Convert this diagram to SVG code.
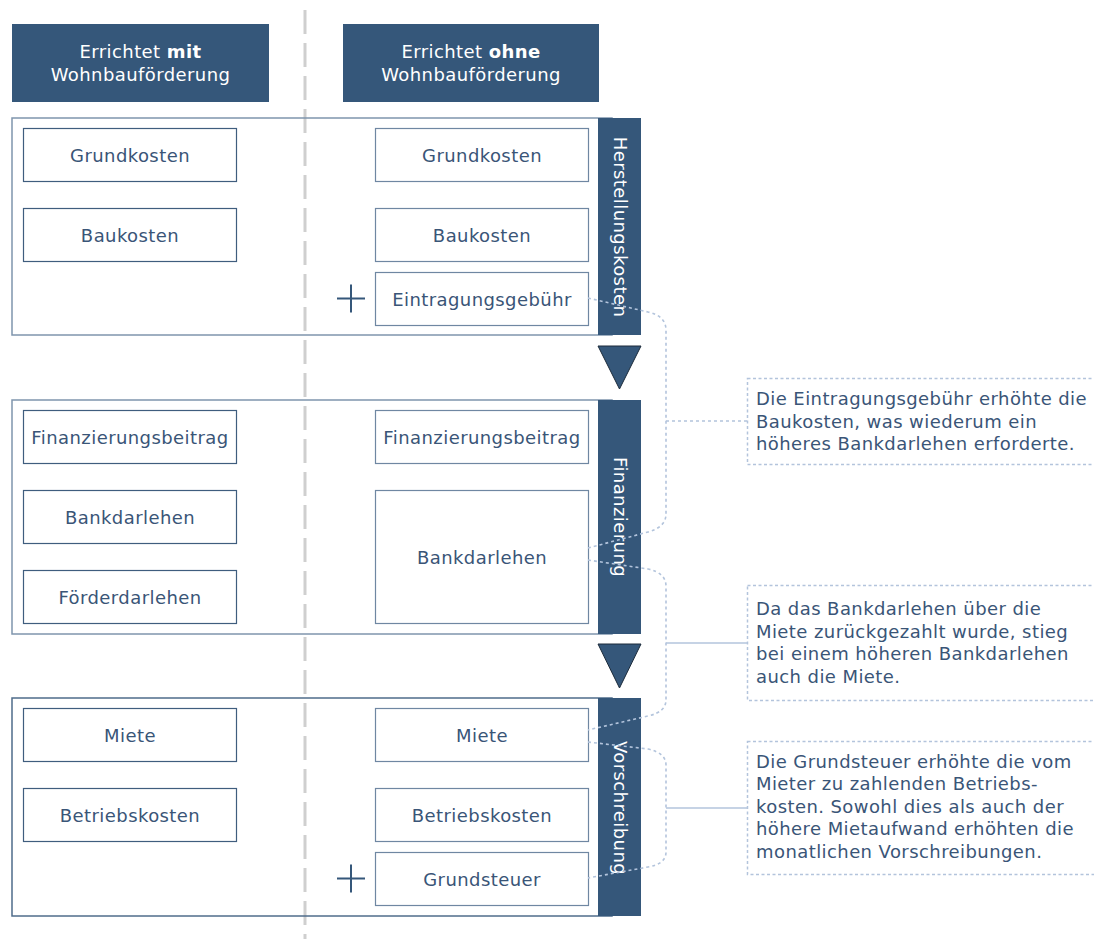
<svg xmlns="http://www.w3.org/2000/svg" width="1094" height="939" viewBox="0 0 1094 939">
<style>
text{font-family:"DejaVu Sans","Verdana",sans-serif;font-size:18px;fill:#3a5577;letter-spacing:0.42px}
.hd{fill:#35577a}
.hdt{fill:#ffffff;text-anchor:middle}
.frame{fill:none;stroke:#7f95ad;stroke-width:1.5}
.bar{fill:#35577a}
.bart{fill:#ffffff;text-anchor:middle;dominant-baseline:central}
.bl{fill:#ffffff;stroke:#3f5d7e;stroke-width:1.2}
.br{fill:#ffffff;stroke:#6f87a2;stroke-width:1.2}
.lbl{text-anchor:middle}
.tri{fill:#35577a;stroke:#1c2b3a;stroke-width:1}
.plus{stroke:#35577a;stroke-width:2;fill:none}
.conn{fill:none;stroke:#b3c4dc;stroke-width:1.6;stroke-dasharray:3 3}
.hline{fill:none;stroke:#b3c4dc;stroke-width:1.6}
.call{fill:none;stroke:#b3c4dc;stroke-width:1.5;stroke-dasharray:3 2.5}
</style>
<rect width="1094" height="939" fill="#ffffff"/>
<line x1="305" y1="10" x2="305" y2="939" stroke="#cfcfcf" stroke-width="3" stroke-dasharray="24 9"/>

<g id="header-mit"><rect class="hd" x="12" y="24" width="257" height="78"/><text class="hdt" x="140.5" y="58">Errichtet <tspan font-weight="bold">mit</tspan></text><text class="hdt" x="140.5" y="81">Wohnbauförderung</text></g>
<g id="header-ohne"><rect class="hd" x="343" y="24" width="256" height="78"/><text class="hdt" x="471" y="58">Errichtet <tspan font-weight="bold">ohne</tspan></text><text class="hdt" x="471" y="81">Wohnbauförderung</text></g>

<g id="section-herstellungskosten">
<rect class="frame" x="12" y="118" width="600" height="217"/>
<rect class="bar" x="598" y="118" width="43" height="217"/>
<text class="bart" transform="translate(620,227) rotate(90)">Herstellungskosten</text>
</g>
<g id="section-finanzierung">
<rect class="frame" x="12" y="400" width="600" height="234"/>
<rect class="bar" x="598" y="400" width="43" height="234"/>
<text class="bart" transform="translate(620,517) rotate(90)">Finanzierung</text>
</g>
<g id="section-vorschreibung">
<rect class="frame" x="12" y="698" width="600" height="218" style="stroke:#4f6c8b"/>
<rect class="bar" x="598" y="698" width="43" height="218"/>
<text class="bart" transform="translate(620,808) rotate(90)">Vorschreibung</text>
</g>

<g id="n-grundkosten-mit"><rect class="bl" x="23.5" y="128.5" width="213" height="53"/><text class="lbl" x="130" y="161.5">Grundkosten</text></g>
<g id="n-baukosten-mit"><rect class="bl" x="23.5" y="208.5" width="213" height="53"/><text class="lbl" x="130" y="241.5">Baukosten</text></g>
<g id="n-grundkosten-ohne"><rect class="br" x="375.5" y="128.5" width="213" height="53"/><text class="lbl" x="482" y="161.5">Grundkosten</text></g>
<g id="n-baukosten-ohne"><rect class="br" x="375.5" y="208.5" width="213" height="53"/><text class="lbl" x="482" y="241.5">Baukosten</text></g>
<g id="n-eintragungsgebuehr"><rect class="br" x="375.5" y="272.5" width="213" height="53"/><text class="lbl" x="482" y="305.5">Eintragungsgebühr</text><path class="plus" d="M337,298.5 H365 M351,284.5 V312.5"/></g>

<g id="n-finanzierungsbeitrag-mit"><rect class="bl" x="23.5" y="410.5" width="213" height="53"/><text class="lbl" x="130" y="443.5">Finanzierungsbeitrag</text></g>
<g id="n-bankdarlehen-mit"><rect class="bl" x="23.5" y="490.5" width="213" height="53"/><text class="lbl" x="130" y="523.5">Bankdarlehen</text></g>
<g id="n-foerderdarlehen-mit"><rect class="bl" x="23.5" y="570.5" width="213" height="53"/><text class="lbl" x="130" y="603.5">Förderdarlehen</text></g>
<g id="n-finanzierungsbeitrag-ohne"><rect class="br" x="375.5" y="410.5" width="213" height="53"/><text class="lbl" x="482" y="443.5">Finanzierungsbeitrag</text></g>
<g id="n-bankdarlehen-ohne"><rect class="br" x="375.5" y="490.5" width="213" height="133"/><text class="lbl" x="482" y="563.5">Bankdarlehen</text></g>

<g id="n-miete-mit"><rect class="bl" x="23.5" y="708.5" width="213" height="53"/><text class="lbl" x="130" y="741.5">Miete</text></g>
<g id="n-betriebskosten-mit"><rect class="bl" x="23.5" y="788.5" width="213" height="53"/><text class="lbl" x="130" y="821.5">Betriebskosten</text></g>
<g id="n-miete-ohne"><rect class="br" x="375.5" y="708.5" width="213" height="53"/><text class="lbl" x="482" y="741.5">Miete</text></g>
<g id="n-betriebskosten-ohne"><rect class="br" x="375.5" y="788.5" width="213" height="53"/><text class="lbl" x="482" y="821.5">Betriebskosten</text></g>
<g id="n-grundsteuer"><rect class="br" x="375.5" y="852.5" width="213" height="53"/><text class="lbl" x="482" y="885.5">Grundsteuer</text><path class="plus" d="M337,878.5 H365 M351,864.5 V892.5"/></g>

<g id="arrows">
<polygon class="tri" points="598,346 641,346 619.5,389"/>
<polygon class="tri" points="598,644 641,644 619.5,688"/>
</g>

<g id="connectors">
<path class="conn" d="M588,298 L648,312 Q666,316 666,330 V514 Q666,527 648,532 L588,548"/>
<line class="conn" x1="666" y1="421" x2="747" y2="421"/>
<path class="conn" d="M588,560 L648,569 Q666,573 666,586 V700 Q666,712 648,716 L588,730"/>
<line class="hline" x1="666" y1="643" x2="747" y2="643"/>
<path class="conn" d="M588,742 L648,749 Q666,753 666,765 V852 Q666,864 648,867 L588,878"/>
<line class="hline" x1="666" y1="808" x2="747" y2="808"/>
</g>

<g id="callout-1">
<rect class="call" x="747.5" y="378.5" width="360" height="86"/>
<text x="756" y="405">Die Eintragungsgebühr erhöhte die</text>
<text x="756" y="428">Baukosten, was wiederum ein</text>
<text x="756" y="450">höheres Bankdarlehen erforderte.</text>
</g>
<g id="callout-2">
<rect class="call" x="747.5" y="585.5" width="360" height="115"/>
<text x="756" y="615">Da das Bankdarlehen über die</text>
<text x="756" y="638">Miete zurückgezahlt wurde, stieg</text>
<text x="756" y="660">bei einem höheren Bankdarlehen</text>
<text x="756" y="683">auch die Miete.</text>
</g>
<g id="callout-3">
<rect class="call" x="747.5" y="741.5" width="360" height="133"/>
<text x="756" y="768">Die Grundsteuer erhöhte die vom</text>
<text x="756" y="790">Mieter zu zahlenden Betriebs-</text>
<text x="756" y="813">kosten. Sowohl dies als auch der</text>
<text x="756" y="835">höhere Mietaufwand erhöhten die</text>
<text x="756" y="858">monatlichen Vorschreibungen.</text>
</g>
</svg>
